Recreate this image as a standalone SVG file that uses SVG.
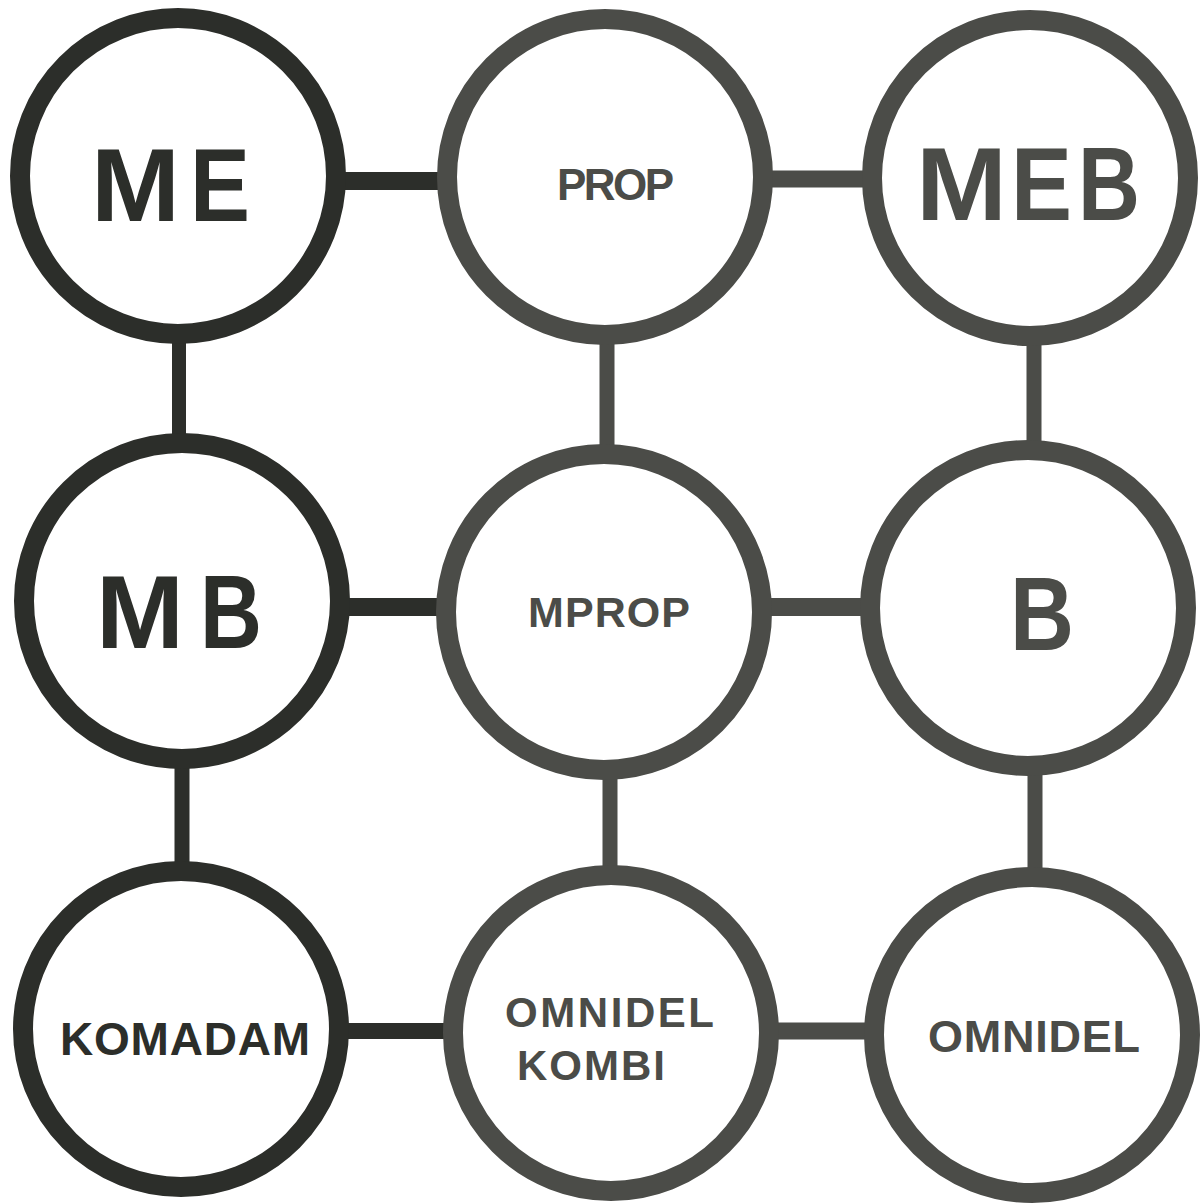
<svg xmlns="http://www.w3.org/2000/svg" width="1201" height="1203" viewBox="0 0 1201 1203">
<style>
.ring{fill:#ffffff;stroke-width:20}
.dk{stroke:#2c2e2a}
.gr{stroke:#4b4c48}
.lbl{font-family:"Liberation Sans",Arial,sans-serif;font-weight:bold}
.big{font-size:103px}
.tdk{fill:#2c2e2a}
.tgr{fill:#4b4c48}
.c{fill:none}
</style>
<rect width="1201" height="1203" fill="#ffffff"/>
<g id="connectors" class="c">
<line class="dk" x1="340" y1="181" x2="442" y2="181" stroke-width="18"/>
<line class="gr" x1="770" y1="179" x2="870" y2="179" stroke-width="17"/>
<line class="dk" x1="345" y1="607" x2="442" y2="607" stroke-width="18"/>
<line class="gr" x1="765" y1="607" x2="866" y2="607" stroke-width="18"/>
<line class="dk" x1="345" y1="1031" x2="448" y2="1031" stroke-width="16"/>
<line class="gr" x1="775" y1="1031" x2="870" y2="1031" stroke-width="17"/>
<line class="dk" x1="179" y1="335" x2="179" y2="442" stroke-width="14"/>
<line class="dk" x1="182" y1="760" x2="182" y2="865" stroke-width="15"/>
<line class="gr" x1="607" y1="335" x2="607" y2="445" stroke-width="15"/>
<line class="gr" x1="610" y1="775" x2="610" y2="868" stroke-width="15"/>
<line class="gr" x1="1034" y1="340" x2="1034" y2="442" stroke-width="15"/>
<line class="gr" x1="1035" y1="770" x2="1035" y2="868" stroke-width="15"/>
</g>
<g id="node-me">
<circle class="ring dk" cx="178" cy="176" r="158"/>
<text class="lbl big tdk" x="91" y="221" textLength="89" lengthAdjust="spacingAndGlyphs">M</text>
<text class="lbl big tdk" x="190" y="221" textLength="60" lengthAdjust="spacingAndGlyphs">E</text>
</g>
<g id="node-prop">
<circle class="ring gr" cx="605" cy="177" r="158"/>
<text class="lbl tgr" x="557" y="200" font-size="44" textLength="117" lengthAdjust="spacing">PROP</text>
</g>
<g id="node-meb">
<circle class="ring gr" cx="1030" cy="178" r="158"/>
<text class="lbl big tgr" x="916" y="220" textLength="91" lengthAdjust="spacingAndGlyphs">M</text>
<text class="lbl big tgr" x="1011" y="220" textLength="61" lengthAdjust="spacingAndGlyphs">E</text>
<text class="lbl big tgr" x="1078" y="220" textLength="62" lengthAdjust="spacingAndGlyphs">B</text>
</g>
<g id="node-mb">
<circle class="ring dk" cx="182" cy="601" r="158"/>
<text class="lbl big tdk" x="96" y="648" textLength="88" lengthAdjust="spacingAndGlyphs">M</text>
<text class="lbl big tdk" x="200" y="648" textLength="62" lengthAdjust="spacingAndGlyphs">B</text>
</g>
<g id="node-mprop">
<circle class="ring gr" cx="604" cy="612" r="158"/>
<text class="lbl tgr" x="528" y="627" font-size="43" textLength="162" lengthAdjust="spacing">MPROP</text>
</g>
<g id="node-b">
<circle class="ring gr" cx="1028" cy="608" r="158"/>
<text class="lbl big tgr" x="1010" y="650" textLength="64" lengthAdjust="spacingAndGlyphs">B</text>
</g>
<g id="node-komadam">
<circle class="ring dk" cx="181" cy="1029" r="158"/>
<text class="lbl tdk" x="60" y="1055" font-size="46" textLength="250" lengthAdjust="spacing">KOMADAM</text>
</g>
<g id="node-omnidel-kombi">
<circle class="ring gr" cx="611" cy="1033" r="158"/>
<text class="lbl tgr" x="505" y="1027" font-size="42" textLength="209" lengthAdjust="spacing">OMNIDEL</text>
<text class="lbl tgr" x="517" y="1080" font-size="42" textLength="148" lengthAdjust="spacing">KOMBI</text>
</g>
<g id="node-omnidel">
<circle class="ring gr" cx="1032" cy="1035" r="158"/>
<text class="lbl tgr" x="928" y="1052" font-size="45" textLength="212" lengthAdjust="spacing">OMNIDEL</text>
</g>
</svg>
